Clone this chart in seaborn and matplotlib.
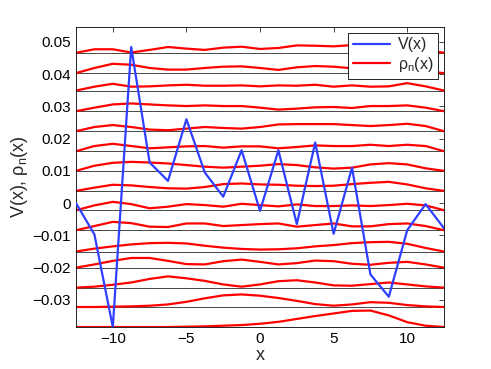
import numpy as np
import pandas as pd
import seaborn as sns
import matplotlib.pyplot as plt
from matplotlib.lines import Line2D

# grid and potential
x = [-12.5, -11.25, -10.0, -8.75, -7.5, -6.25, -5.0, -3.75, -2.5, -1.25, 0.0,
     1.25, 2.5, 3.75, 5.0, 6.25, 7.5, 8.75, 10.0, 11.25, 12.5]
V = [0.0, -0.0097, -0.0384, 0.0484, 0.0126, 0.0069, 0.0260, 0.0095, 0.0020,
     0.0164, -0.0024, 0.0164, -0.0065, 0.0188, -0.0095, 0.0110, -0.0221,
     -0.0290, -0.0084, -0.0003, -0.0078]

# eigen energies (baselines), top to bottom
E = [0.0466, 0.0403, 0.0349, 0.0285, 0.0223, 0.0161, 0.0100, 0.0038,
     -0.0022, -0.0084, -0.0150, -0.0200, -0.0262, -0.0322, -0.0384]

# densities rho_n(x), in units of 1e-4, same order as E
rho_n = [
    [0, 11, 11, 1, 9, 18, 13, 9, 16, 19, 12, 15, 23, 22, 20, 24, 19, 16, 16, 9, 0],
    [0, 16, 29, 26, 16, 11, 11, 16, 20, 21, 16, 10, 18, 22, 20, 15, 12, 12, 9, 6, 0],
    [0, 12, 21, 12, 13, 16, 18, 15, 15, 16, 13, 16, 15, 18, 12, 16, 12, 13, 23, 13, 0],
    [0, 11, 21, 24, 21, 18, 16, 18, 16, 16, 11, 5, 8, 12, 13, 10, 16, 16, 18, 11, 0],
    [0, 13, 19, 13, 5, 3, 8, 13, 10, 8, 13, 21, 22, 22, 22, 19, 16, 19, 23, 16, 0],
    [0, 16, 23, 16, 9, 12, 15, 16, 11, 15, 15, 9, 13, 18, 16, 16, 20, 16, 20, 16, 0],
    [0, 16, 25, 28, 26, 23, 18, 13, 10, 13, 16, 21, 18, 11, 7, 10, 20, 24, 20, 8, 0],
    [0, 10, 19, 17, 12, 8, 7, 12, 21, 23, 20, 19, 16, 15, 16, 21, 25, 28, 20, 8, 0],
    [0, 15, 26, 19, 6, 11, 19, 16, 11, 20, 16, 12, 18, 13, 13, 15, 13, 16, 20, 15, 0],
    [0, 13, 26, 22, 11, 10, 21, 21, 13, 16, 19, 21, 11, 16, 21, 12, 12, 19, 21, 13, 0],
    [0, 9, 16, 22, 26, 27, 25, 18, 12, 8, 6, 7, 10, 16, 20, 26, 29, 30, 24, 11, 0],
    [0, 10, 21, 30, 30, 21, 11, 10, 20, 25, 18, 10, 14, 22, 20, 12, 9, 15, 18, 10, 0],
    [0, 3, 9, 16, 27, 35, 29, 21, 10, 3, 10, 20, 23, 16, 7, 6, 11, 16, 10, 4, 0],
    [0, 0, 1, 2, 4, 8, 16, 27, 36, 39, 35, 28, 19, 9, 4, 8, 15, 13, 6, 2, 0],
    [0, 0, 0, 0, 0, 0, 1, 2, 4, 6, 10, 16, 25, 34, 42, 50, 51, 36, 15, 4, 0],
]

xticks = [-10, -5, 0, 5, 10]
xticklabels = ["\u221210", "\u22125", "0", "5", "10"]
yticks = [-0.03, -0.02, -0.01, 0, 0.01, 0.02, 0.03, 0.04, 0.05]
yticklabels = ["\u22120.03", "\u22120.02", "\u22120.01", "0", "0.01", "0.02",
               "0.03", "0.04", "0.05"]

sns.set_style("white")
plt.rcParams["font.family"] = ["Liberation Sans", "DejaVu Sans"]
plt.rcParams["font.size"] = 11

fig = plt.figure(figsize=(4.91, 3.69), dpi=100)
ax = fig.add_axes([0.1548, 0.1138, 0.7495, 0.813])

blue = "#2f3fff"

for e in E:
    ax.axhline(e, color="black", lw=0.5, zorder=1)

for e, r in zip(E, rho_n):
    d = pd.DataFrame({"x": x, "y": e + np.array(r) * 1e-4})
    sns.lineplot(data=d, x="x", y="y", color="red", lw=1.6, ax=ax,
                 estimator=None, sort=False, zorder=2)

dv = pd.DataFrame({"x": x, "V": V})
sns.lineplot(data=dv, x="x", y="V", color=blue, lw=1.6, ax=ax,
             estimator=None, sort=False, zorder=3)

ax.set_xlim(-12.5, 12.5)
ax.set_ylim(-0.0384, 0.0546)
ax.set_xticks(xticks)
ax.set_xticklabels(xticklabels)
ax.set_yticks(yticks)
ax.set_yticklabels(yticklabels)
ax.tick_params(direction="in", top=True, right=True, length=3.5, width=0.5,
               labelsize=11, colors="black")
for s in ax.spines.values():
    s.set_linewidth(0.6)
    s.set_color("black")

ax.set_xlabel("x", fontsize=13, labelpad=1)
ax.set_ylabel(r"V(x), $\mathregular{\rho_n}$(x)", fontsize=13, labelpad=2)

handles = [Line2D([], [], color=blue, lw=1.6),
           Line2D([], [], color="red", lw=1.6)]
leg = ax.legend(handles, ["V(x)", r"$\mathregular{\rho_n}$(x)"], loc="upper right",
                fancybox=False, framealpha=1, edgecolor="black",
                borderaxespad=0.35, handlelength=2.3, fontsize=11.5,
                borderpad=0.3, labelspacing=0.15, handletextpad=0.5)
leg.get_frame().set_linewidth(0.6)
leg.set_zorder(5)

fig.savefig("out.png", dpi=100)
